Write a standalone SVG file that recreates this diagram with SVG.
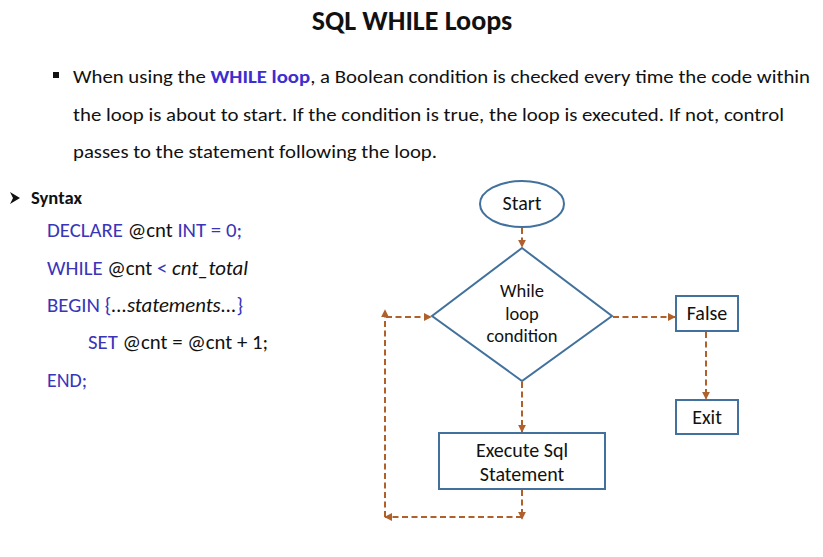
<svg xmlns="http://www.w3.org/2000/svg" width="823" height="557" viewBox="0 0 823 557">
  <style>
    text { font-family: Carlito, Calibri, "Open Sans", "Noto Sans", sans-serif; fill: #111; }
    .title { font-size: 28px; font-weight: bold; }
    .body { font-size: 19px; }
    .kw { fill: #3b2fd0; }
    .code { font-size: 20px; }
    .ckw { fill: #3a35b8; }
    .node { fill: #fff; stroke: #41719c; stroke-width: 2; }
    .lbl { font-size: 20px; text-anchor: middle; }
    .lblS { font-size: 18.5px; text-anchor: middle; }
    .conn { fill: none; stroke: #b0602a; stroke-width: 2; stroke-dasharray: 6 3.5; }
  </style>
  <defs>
    <marker id="ah" viewBox="0 0 10 10" refX="9" refY="5" markerWidth="4" markerHeight="4" orient="auto" markerUnits="strokeWidth">
      <path d="M0,0 L10,5 L0,10 z" fill="#b0602a"/>
    </marker>
  </defs>

  <rect width="823" height="557" fill="#fff"/>

  <!-- heading and description -->
  <text class="title" x="412" y="30" text-anchor="middle">SQL WHILE Loops</text>
  <rect x="53" y="72" width="6" height="6" fill="#111"/>
  <text class="body" x="73" y="83" textLength="737" lengthAdjust="spacingAndGlyphs">When using the <tspan class="kw" font-weight="bold">WHILE loop</tspan>, a Boolean condition is checked every time the code within</text>
  <text class="body" x="73" y="121" textLength="711" lengthAdjust="spacingAndGlyphs">the loop is about to start. If the condition is true, the loop is executed. If not, control</text>
  <text class="body" x="73" y="158" textLength="364" lengthAdjust="spacingAndGlyphs">passes to the statement following the loop.</text>

  <!-- syntax listing -->
  <path d="M10,192 L20,198 L10,204 L13,198 z" fill="#111"/>
  <text x="31" y="204" font-size="17" font-weight="bold" textLength="51" lengthAdjust="spacingAndGlyphs">Syntax</text>
  <g class="code">
    <text x="47" y="237" textLength="195" lengthAdjust="spacingAndGlyphs"><tspan class="ckw">DECLARE </tspan>@cnt <tspan class="ckw">INT = 0;</tspan></text>
    <text x="47" y="275" textLength="201" lengthAdjust="spacingAndGlyphs"><tspan class="ckw">WHILE </tspan>@cnt <tspan class="ckw">&lt; </tspan><tspan font-style="italic">cnt_total</tspan></text>
    <text x="47" y="312" textLength="196" lengthAdjust="spacingAndGlyphs"><tspan class="ckw">BEGIN {</tspan><tspan font-style="italic">...statements...</tspan><tspan class="ckw">}</tspan></text>
    <text x="88" y="349" textLength="180" lengthAdjust="spacingAndGlyphs"><tspan class="ckw">SET </tspan>@cnt = @cnt + 1;</text>
    <text x="47" y="387" class="ckw" textLength="40" lengthAdjust="spacingAndGlyphs">END;</text>
  </g>

  <!-- flowchart nodes -->
  <g id="start">
    <ellipse class="node" cx="522" cy="204" rx="42" ry="23"/>
    <text class="lbl" x="522" y="210">Start</text>
  </g>
  <g id="condition">
    <polygon class="node" points="522,248 612,316 522,381 432,316"/>
    <text class="lblS" x="522" y="297">While</text>
    <text class="lblS" x="522" y="320">loop</text>
    <text class="lblS" x="522" y="342">condition</text>
  </g>
  <g id="false">
    <rect class="node" x="676" y="296" width="62" height="35"/>
    <text class="lbl" x="707" y="320">False</text>
  </g>
  <g id="exit">
    <rect class="node" x="676" y="400" width="62" height="34"/>
    <text class="lbl" x="707" y="424">Exit</text>
  </g>
  <g id="execute">
    <rect class="node" x="439" y="433" width="166" height="56"/>
    <text class="lbl" x="522" y="457">Execute Sql</text>
    <text class="lbl" x="522" y="481">Statement</text>
  </g>

  <!-- connectors -->
  <g id="connectors">
    <line class="conn" x1="522" y1="228" x2="522" y2="247" marker-end="url(#ah)"/>
    <line class="conn" x1="613" y1="317" x2="675" y2="317" marker-end="url(#ah)"/>
    <line class="conn" x1="706" y1="332" x2="706" y2="399" marker-end="url(#ah)"/>
    <line class="conn" x1="522" y1="382" x2="522" y2="432" marker-end="url(#ah)"/>
    <line class="conn" x1="522" y1="490" x2="522" y2="519" marker-end="url(#ah)"/>
    <line class="conn" x1="522" y1="517" x2="385" y2="517" marker-end="url(#ah)"/>
    <line class="conn" x1="385" y1="517" x2="385" y2="310" marker-end="url(#ah)"/>
    <line class="conn" x1="386" y1="317" x2="431" y2="317" marker-end="url(#ah)"/>
  </g>
</svg>
